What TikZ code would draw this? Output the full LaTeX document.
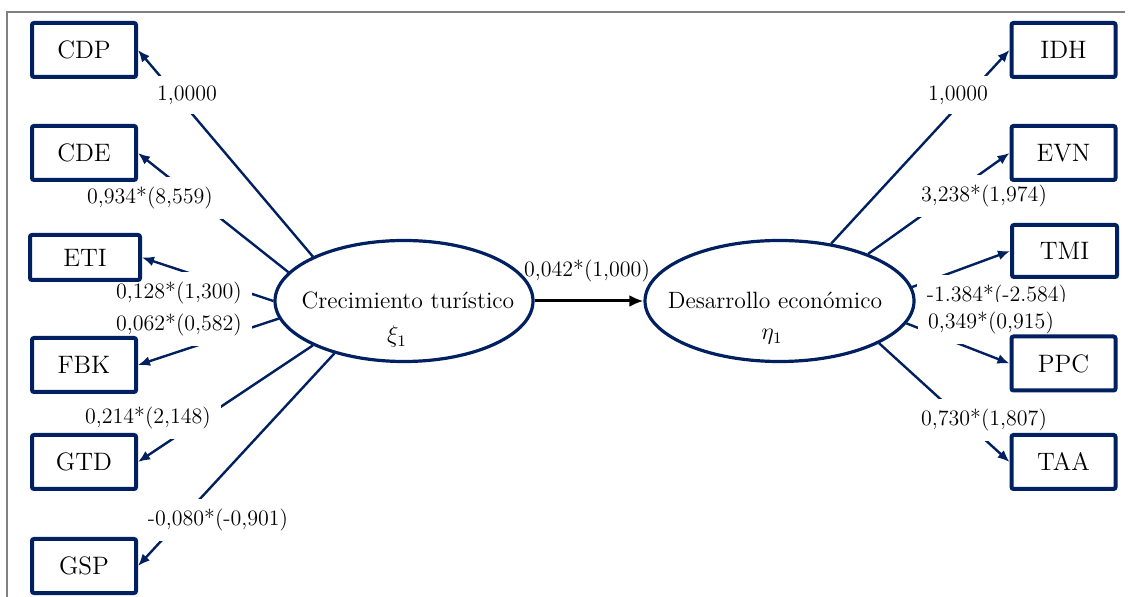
\documentclass[tikz,border=0pt]{standalone}
\usetikzlibrary{shapes.geometric,arrows.meta}
\definecolor{navy}{RGB}{0,32,96}
\pgfdeclarelayer{front}
\pgfsetlayers{main,front}

\begin{document}
\begin{tikzpicture}[x=0.5pt,y=-0.5pt,>={Latex[length=6pt,width=5pt]},
        font=\fontsize{11.8}{13}\selectfont,
        obs/.style={draw=navy,fill=white,line width=2pt,rounded corners=1pt,minimum width=52pt,minimum height=27pt,inner sep=0pt,font=\fontsize{12.6}{14}\selectfont},
        latent/.style={ellipse,draw=navy,line width=1.6pt,minimum height=60.5pt,inner sep=0pt},
        load/.style={navy,line width=1.2pt,->},
        coef/.style={fill=white,inner xsep=5pt,inner ysep=5pt,font=\fontsize{11}{13}\selectfont}]
                \useasboundingbox (0,0) rectangle (1128,597);
                \draw[gray,line width=1pt] (7,597) -- (7,12) -- (1125,12);
                % latent variables
                \node[latent,minimum width=129pt] (crec) at (404,301) {};
                \node (crect) at (408,300) {Crecimiento turístico};
                \node (crecs) at (397,337) {$\xi_1$};
                \node[latent,minimum width=134.5pt] (desa) at (779.5,301) {};
                \node (desat) at (775,300) {Desarrollo económico};
                \node (desas) at (772,337) {$\eta_1$};
                % indicators (kept above the coefficient boxes)
                \begin{pgfonlayer}{front}
                \foreach \b/\y in {CDP/50,CDE/153,FBK/365,GTD/462,GSP/566}{
                    \node[obs] (\b) at (84,\y) {\b};
                }
                \node[obs,minimum width=55pt,minimum height=22.5pt] (ETI) at (85,257.5) {ETI};
                \foreach \b/\y in {IDH/50,EVN/153,PPC/363.5,TAA/462}{
                    \node[obs] (\b) at (1063.5,\y) {\b};
                }
                \node[obs,minimum width=52.5pt,minimum height=26pt] (TMI) at (1064.5,251) {TMI};
                \end{pgfonlayer}
                % loadings
                \foreach \b/\a in {CDP/154,CDE/166,ETI/180,FBK/188,GTD/206,GSP/217}{
                    \draw[load] (crec.\a) -- (\b.east);
                }
                \foreach \b/\a in {IDH/48,EVN/28,TMI/6,PPC/350,TAA/337}{
                    \draw[load] (desa.\a) -- (\b.west);
                }
                \draw[line width=1.5pt,-{Latex[length=7pt,width=6pt]}] (crec) -- (desa);
                % coefficients
                \node[coef] (cCDP) at (187,95) {1,0000};
                \node[coef] (cCDE) at (150,198) {0,934*(8,559)};
                \node[coef] (cETI) at (179,293) {0,128*(1,300)};
                \node[coef] (cFBK) at (179,325) {0,062*(0,582)};
                \node[coef] (cGTD) at (148,418) {0,214*(2,148)};
                \node[coef] (cGSP) at (218,520) {-0,080*(-0,901)};
                \node[coef,fill=none] (cpath) at (587,271) {0,042*(1,000)};
                \node[coef] (cIDH) at (958,95) {1,0000};
                \node[coef] (cEVN) at (984,196) {3,238*(1,974)};
                \node[coef] (cTMI) at (997,296) {-1.384*(-2.584)};
                \node[coef] (cPPC) at (991,323) {0,349*(0,915)};
                \node[coef] (cTAA) at (984,420) {0,730*(1,807)};
            \end{tikzpicture}
\end{document}
